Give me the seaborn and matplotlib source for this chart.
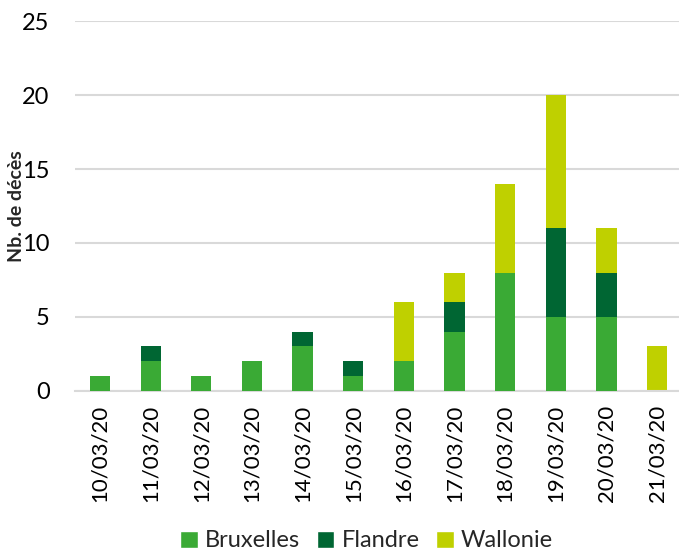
import matplotlib
matplotlib.use("Agg")
import matplotlib.pyplot as plt
import seaborn as sns
import pandas as pd
import numpy as np
from matplotlib.patches import Patch

dates = ["10/03/20", "11/03/20", "12/03/20", "13/03/20", "14/03/20", "15/03/20",
         "16/03/20", "17/03/20", "18/03/20", "19/03/20", "20/03/20", "21/03/20"]
bruxelles = [1, 2, 1, 2, 3, 1, 2, 4, 8, 5, 5, 0]
flandre = [0, 1, 0, 0, 1, 1, 0, 2, 0, 6, 3, 0]
wallonie = [0, 0, 0, 0, 0, 0, 4, 2, 6, 9, 3, 3]

series = ["Bruxelles", "Flandre", "Wallonie"]
colors = {"Bruxelles": "#3AAA35", "Flandre": "#006633", "Wallonie": "#BFD000"}

sns.set_theme(style="white")
plt.rcParams['font.family'] = ['Lato', 'DejaVu Sans']

df = pd.DataFrame({"date": dates, "Bruxelles": bruxelles, "Flandre": flandre, "Wallonie": wallonie})

fig = plt.figure(figsize=(6.79, 5.56), dpi=100)
ax = fig.add_axes([0.11, 0.297, 0.895, 0.665])

bottom = np.zeros(len(dates))
for s in series:
    tops = bottom + df[s].values
    sns.barplot(x=df["date"], y=tops, color=colors[s], ax=ax, width=0.4,
                order=dates, zorder=3 - series.index(s), linewidth=0, saturation=1)
    bottom = tops

ax.set_ylim(0, 25)
ax.set_yticks([0, 5, 10, 15, 20, 25])
ax.yaxis.grid(True, color="#D9D9D9", linewidth=1.5, zorder=0)
ax.set_axisbelow(True)
for sp in ["top", "right", "left"]:
    ax.spines[sp].set_visible(False)
ax.spines["bottom"].set_color("#D9D9D9")
ax.spines["bottom"].set_linewidth(1.5)
ax.tick_params(axis="y", length=0, labelsize=17, colors="#000000", pad=18)
ax.tick_params(axis="x", length=0, labelsize=16, colors="#000000", pad=10)
plt.setp(ax.get_xticklabels(), rotation=90)
ax.set_xlabel("")
ax.set_ylabel("Nb. de décès", fontsize=14, fontweight="bold")
ax.yaxis.set_label_coords(-0.082, 0.5)
ax.set_xlim(-0.5, len(dates) - 0.5)

handles = [Patch(facecolor=colors[s], label=s) for s in series]
fig.legend(handles=handles, loc="lower center", bbox_to_anchor=(0.54, -0.03), ncol=3,
           frameon=False, fontsize=17, handlelength=0.75, handleheight=0.75,
           handletextpad=0.3, columnspacing=0.7)

fig.savefig("out.png", dpi=100)
